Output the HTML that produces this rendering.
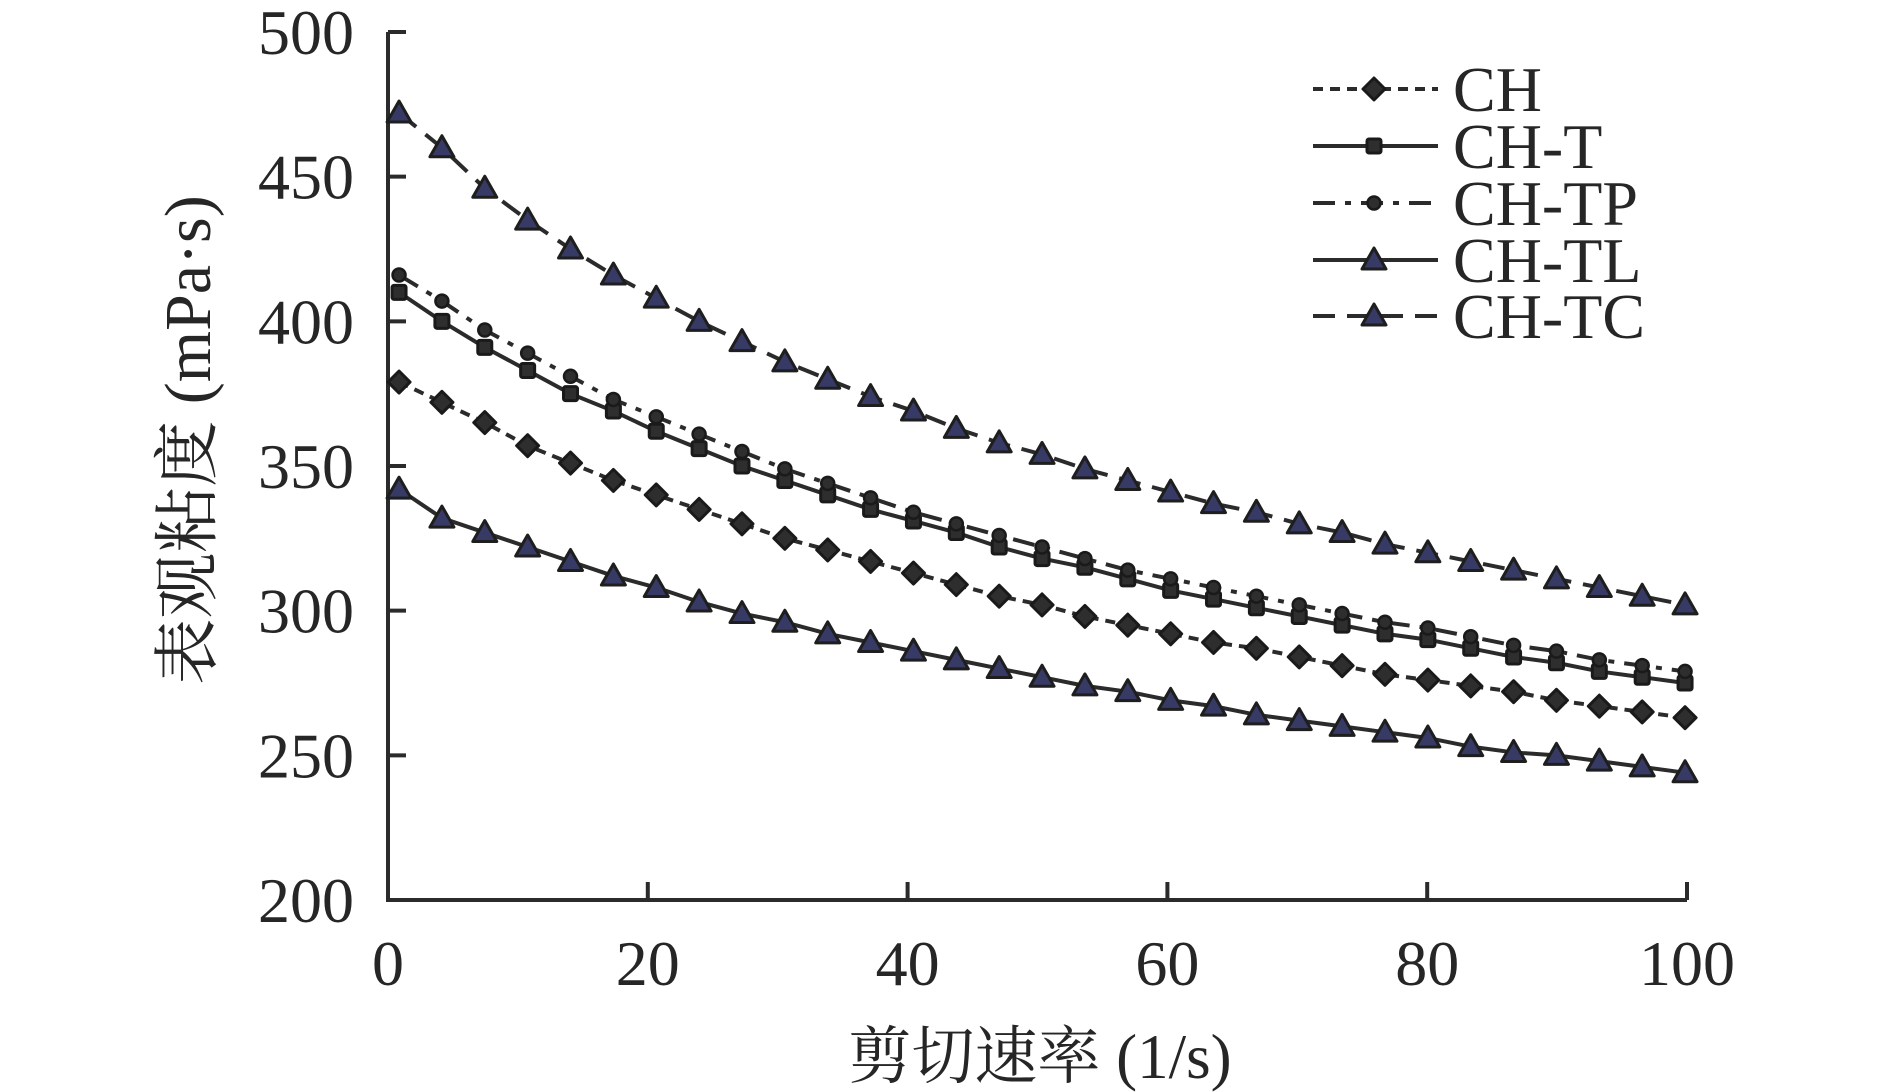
<!DOCTYPE html>
<html><head><meta charset="utf-8">
<style>
html,body{margin:0;padding:0;background:#fff;}
svg{display:block;}
text{font-family:"Liberation Serif","Noto Serif CJK SC",serif;fill:#262626;}
</style></head>
<body>
<svg id="chart" width="1890" height="1092" viewBox="0 0 1890 1092" xmlns="http://www.w3.org/2000/svg">
<g id="axes"></g>
<g id="series"></g>
<g id="legend"></g>
<text x="1040" y="1078" font-size="63" text-anchor="middle">剪切速率 (1/s)</text>
<text transform="translate(210,440) rotate(-90)" font-size="66" text-anchor="middle">表观粘度 (mPa·s)</text>
</svg>
<script>
const xStart = 0.85;
const xStep = 3.3;
const seriesNames = ["CH","CH-T","CH-TP","CH-TL","CH-TC"];
const valsCH = [379,372,365,357,351,345,340,335,330,325,321,317,313,309,305,302,298,295,292,289,287,284,281,278,276,274,272,269,267,265,263];
const valsT  = [410,400,391,383,375,369,362,356,350,345,340,335,331,327,322,318,315,311,307,304,301,298,295,292,290,287,284,282,279,277,275];
const valsTP = [416,407,397,389,381,373,367,361,355,349,344,339,334,330,326,322,318,314,311,308,305,302,299,296,294,291,288,286,283,281,279];
const valsTL = [342,332,327,322,317,312,308,303,299,296,292,289,286,283,280,277,274,272,269,267,264,262,260,258,256,253,251,250,248,246,244];
const valsTC = [472,460,446,435,425,416,408,400,393,386,380,374,369,363,358,354,349,345,341,337,334,330,327,323,320,317,314,311,308,305,302];
const xTicks = [0,20,40,60,80,100];
const yTicks = [200,250,300,350,400,450,500];

const NS="http://www.w3.org/2000/svg";
const X0=388,X1=1687,Y0=900,Y1=32;
function sx(v){return X0+(v-0)/(100-0)*(X1-X0);}
function sy(v){return Y0-(v-200)/(500-200)*(Y0-Y1);}
function mk(tag,attrs,parent){const e=document.createElementNS(NS,tag);for(const k in attrs)e.setAttribute(k,attrs[k]);parent.appendChild(e);return e;}
const axes=document.getElementById('axes');
const col="#2b2b2b";
let e=mk('path',{d:`M${X0},${Y1} L${X0},${Y0} L${X1},${Y0}`,fill:'none',stroke:col,'stroke-width':4},axes);


xTicks.forEach(t=>{
  const x=sx(t);
  let l=mk('line',{x1:x,y1:Y0,x2:x,y2:Y0-18,stroke:col,'stroke-width':4},axes);
  
  
  let tx=mk('text',{x:x,y:985,'font-size':64,'text-anchor':'middle'},axes);
  tx.textContent=t;
  
  
});
yTicks.forEach(t=>{
  const y=sy(t);
  let l=mk('line',{x1:X0,y1:y,x2:X0+18,y2:y,stroke:col,'stroke-width':4},axes);
  
  
  let tx=mk('text',{x:354,y:y+22,'font-size':64,'text-anchor':'end'},axes);
  tx.textContent=t;
  
  
});
const styles=[
 {vals:valsCH,dash:'10,7',sym:'diamond'},
 {vals:valsT,dash:'',sym:'square'},
 {vals:valsTP,dash:'22,10,6,10',sym:'circle'},
 {vals:valsTL,dash:'',sym:'tri'},
 {vals:valsTC,dash:'22,12',sym:'tri'}
];
function drawSym(sym,x,y,parent){
  let m;
  if(sym==='diamond') m=mk('polygon',{points:`${x},${y-11} ${x+11},${y} ${x},${y+11} ${x-11},${y}`,fill:'#2e2e2e',stroke:'#1a1a1a','stroke-width':3,'stroke-linejoin':'round'},parent);
  else if(sym==='square') m=mk('rect',{x:x-7,y:y-7,width:14,height:14,rx:2,fill:'#2e2e2e',stroke:'#1a1a1a','stroke-width':3},parent);
  else if(sym==='circle') m=mk('circle',{cx:x,cy:y,r:6.5,fill:'#2e2e2e',stroke:'#1a1a1a','stroke-width':2.5},parent);
  else m=mk('polygon',{points:`${x},${y-12} ${x+12},${y+9} ${x-12},${y+9}`,fill:'#363a64',stroke:'#1e1e1e','stroke-width':3,'stroke-linejoin':'round'},parent);
  return m;
}
const sg=document.getElementById('series');
const lg=document.getElementById('legend');
const legY=[89,146,203,260,316];
styles.forEach((s,si)=>{
  const g=mk('g',{},sg);
  
  
  const pts=s.vals.map((v,i)=>[sx(xStart+i*xStep),sy(v)]);
  const p=mk('polyline',{points:pts.map(q=>q.join(',')).join(' '),fill:'none',stroke:col,'stroke-width':4,'stroke-dasharray':s.dash||'none'},g);
  
  
  pts.forEach(q=>{
    const m=drawSym(s.sym,q[0],q[1],g);
    
    
  });
  const y=legY[si];
  const le=mk('g',{},lg);
  
  
  mk('line',{x1:1313,y1:y,x2:1438,y2:y,stroke:col,'stroke-width':4,'stroke-dasharray':s.dash||'none'},le);
  drawSym(s.sym,1374,y,le);
  const t=mk('text',{x:1453,y:y+22,'font-size':64},le);
  t.textContent=seriesNames[si];
});
</script>
</body></html>
